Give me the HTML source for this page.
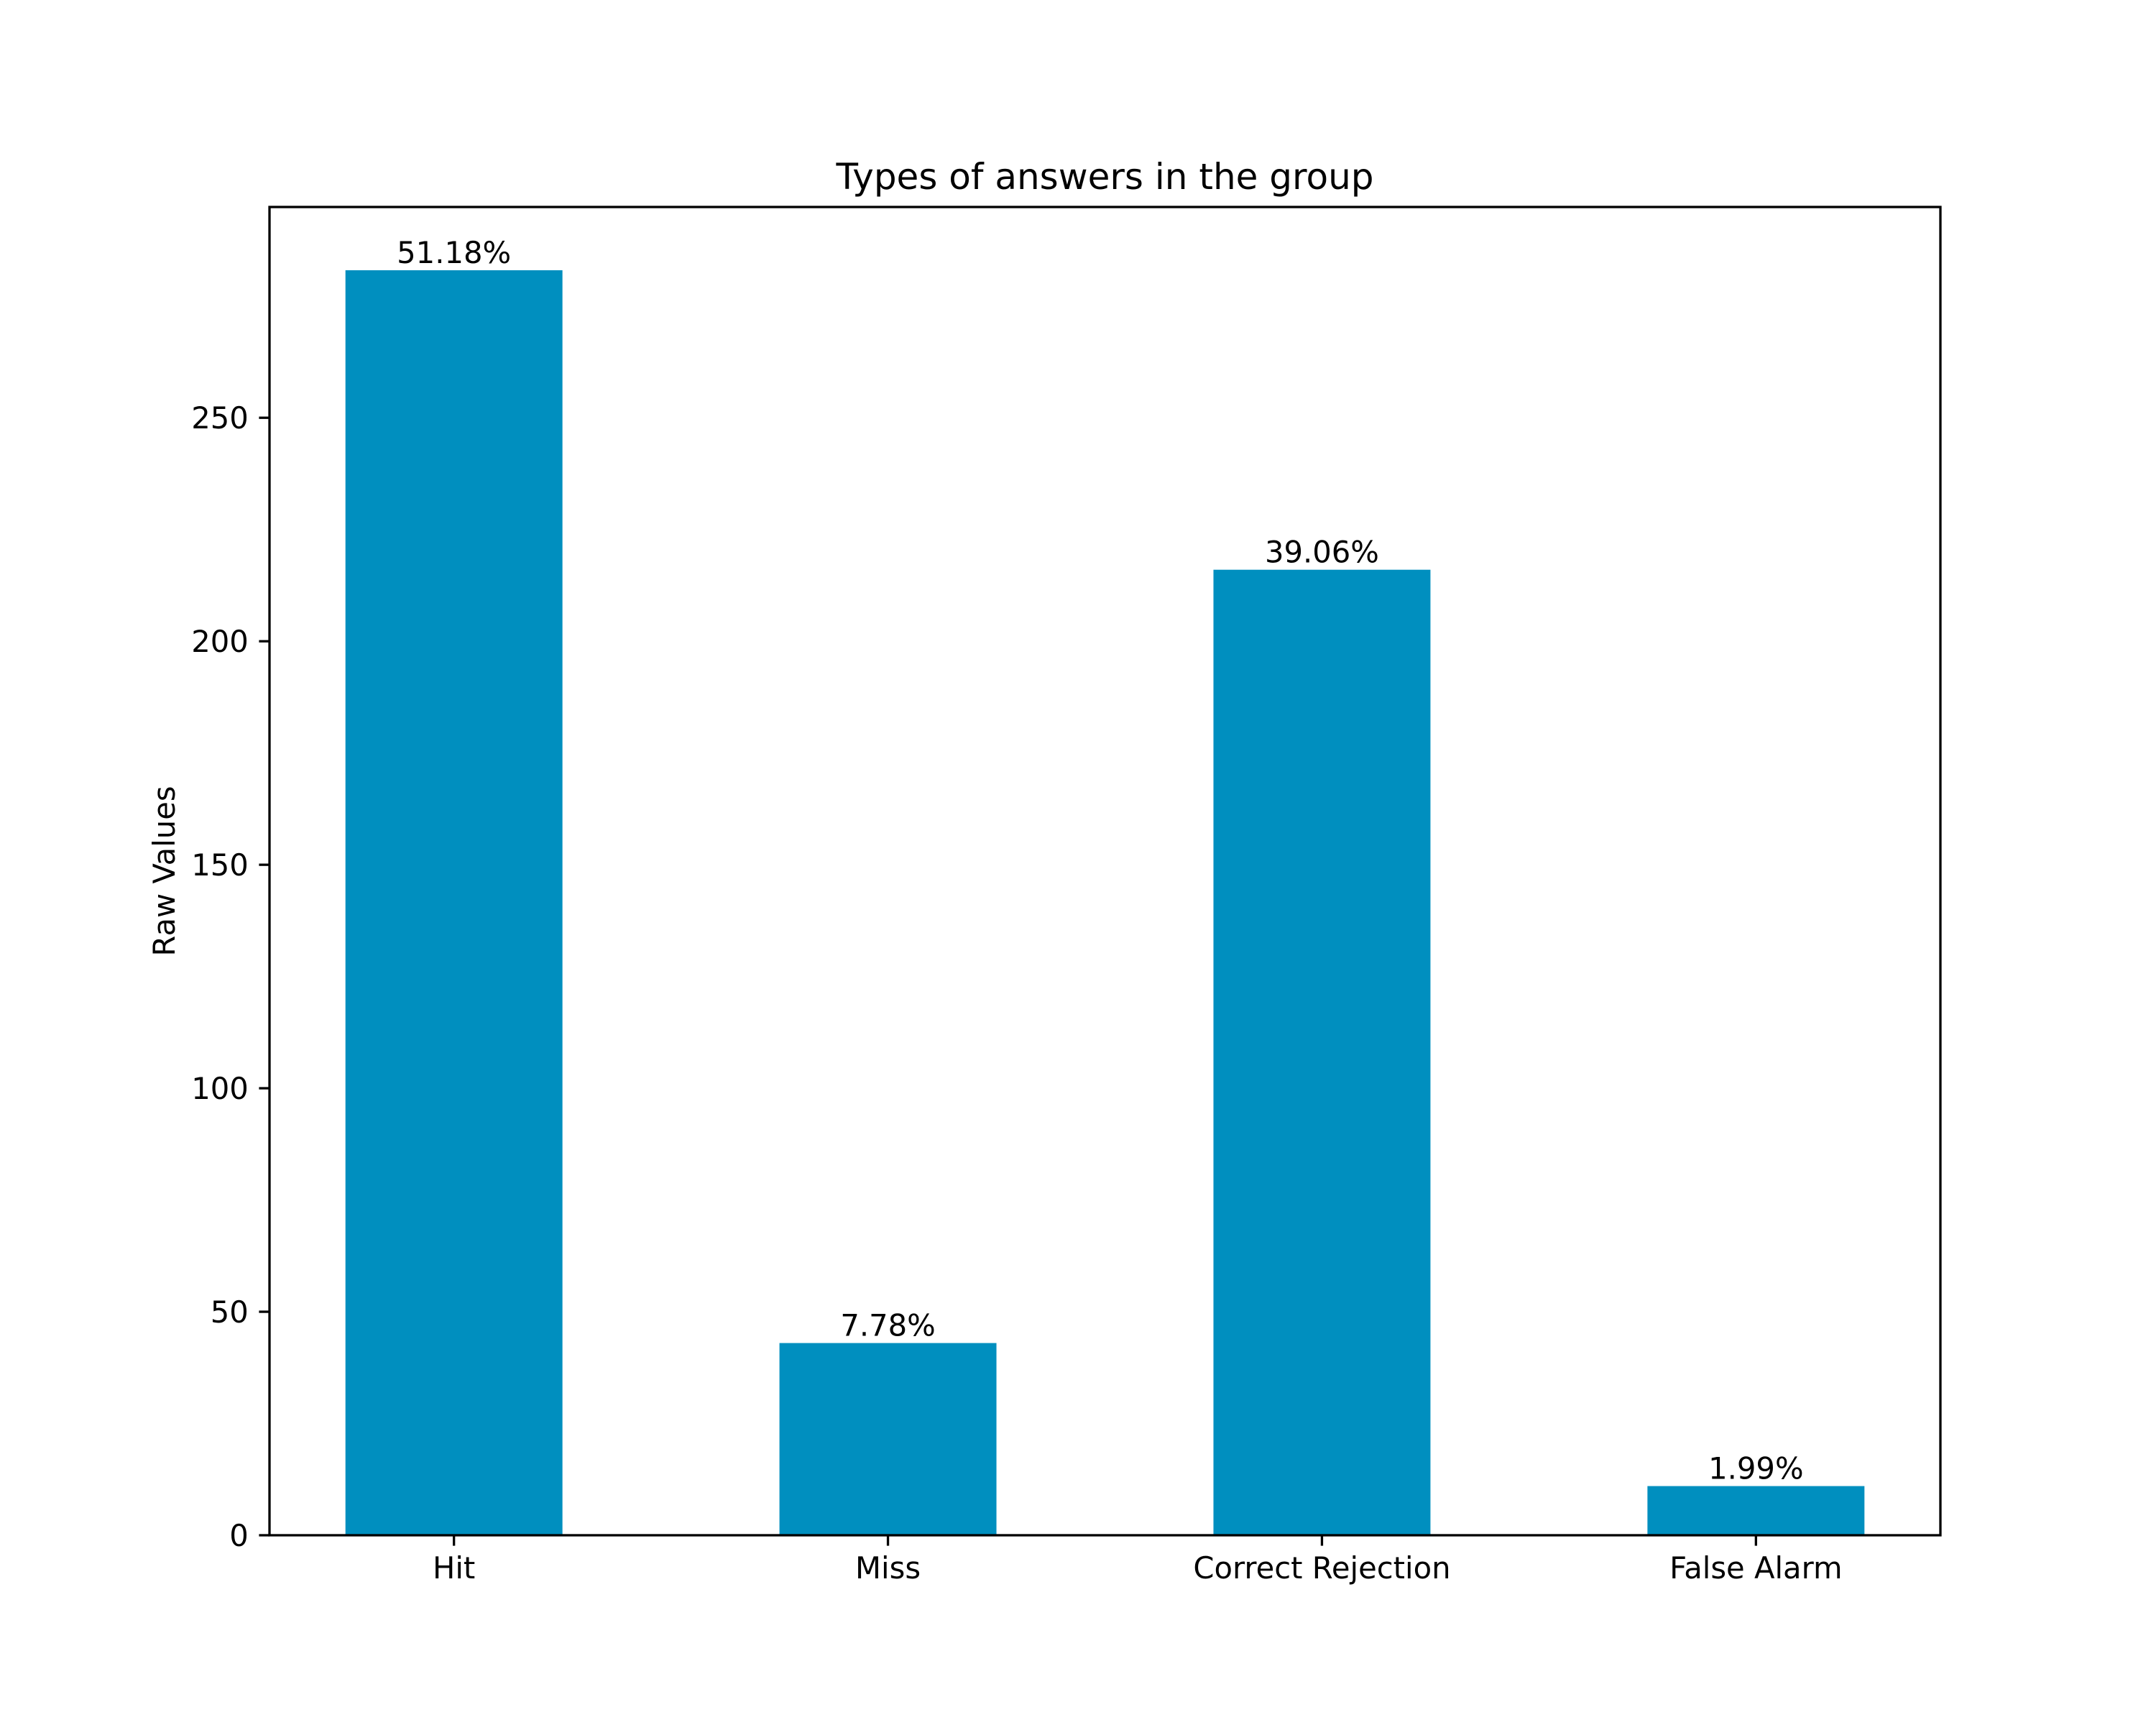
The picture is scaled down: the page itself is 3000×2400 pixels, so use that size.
<!DOCTYPE html>
<html><head><meta charset="utf-8"><style>html,body{margin:0;padding:0;background:#fff}svg{display:block}</style></head>
<body>
<svg id="chart" width="3000" height="2400" xmlns="http://www.w3.org/2000/svg" font-family="DejaVu Sans, Liberation Sans, sans-serif">
<rect x="0" y="0" width="3000" height="2400" fill="#fff"/>
<g id="plot"></g>
</svg>
<script>
const categories = ["Hit", "Miss", "Correct Rejection", "False Alarm"];
const values = [283, 43, 216, 11];
const labels = ["51.18%", "7.78%", "39.06%", "1.99%"];
const yTicks = [0, 50, 100, 150, 200, 250];

const L = 375, R = 2700, T = 288, B = 2136;
const yMax = Math.max(...values) * 1.05;
const barW = 0.5;
const xMin = -barW / 2 - 0.05 * (categories.length - 1 + barW);
const xMax = categories.length - 1 + barW / 2 + 0.05 * (categories.length - 1 + barW);
const xs = i => L + (i - xMin) / (xMax - xMin) * (R - L);
const ys = v => B - v / yMax * (B - T);
const bw = barW / (xMax - xMin) * (R - L);
const NS = "http://www.w3.org/2000/svg";
const g = document.getElementById('plot');
function mk(tag, attrs, text) {
  const e = document.createElementNS(NS, tag);
  for (const k in attrs) e.setAttribute(k, attrs[k]);
  if (text !== undefined) e.textContent = text;
  g.appendChild(e);
  return e;
}
categories.forEach((c, i) => {
  const b = mk('rect', {x: xs(i) - bw / 2, y: ys(values[i]), width: bw, height: B - ys(values[i]), fill: '#008fbf'});
  
  
  const t = mk('text', {x: xs(i), y: ys(values[i]) - 10, 'text-anchor': 'middle', 'font-size': 41.7, fill: '#000'}, labels[i]);
  
  
  const tk = mk('line', {x1: xs(i), x2: xs(i), y1: B, y2: B + 14.6, stroke: '#000', 'stroke-width': 3.3});
  
  
  const tl = mk('text', {x: xs(i), y: B + 14.6 + 14.6 + 31, 'text-anchor': 'middle', 'font-size': 41.7, fill: '#000'}, c);
  
  
});
yTicks.forEach(v => {
  const tk = mk('line', {x1: L - 14.6, x2: L, y1: ys(v), y2: ys(v), stroke: '#000', 'stroke-width': 3.3});
  
  
  const tl = mk('text', {x: L - 14.6 - 14.6, y: ys(v) + 15, 'text-anchor': 'end', 'font-size': 41.7, fill: '#000'}, v);
  
  
});
const fr = mk('rect', {x: L, y: T, width: R - L, height: B - T, fill: 'none', stroke: '#000', 'stroke-width': 3.3});


const ti = mk('text', {x: (L + R) / 2, y: T - 25, 'text-anchor': 'middle', 'font-size': 50}, 'Types of answers in the group');


const yl = mk('text', {x: 0, y: 0, 'text-anchor': 'middle', 'font-size': 41.7, transform: 'translate(243,' + (T + B) / 2 + ') rotate(-90)'}, 'Raw Values');


</script>
</body></html>
